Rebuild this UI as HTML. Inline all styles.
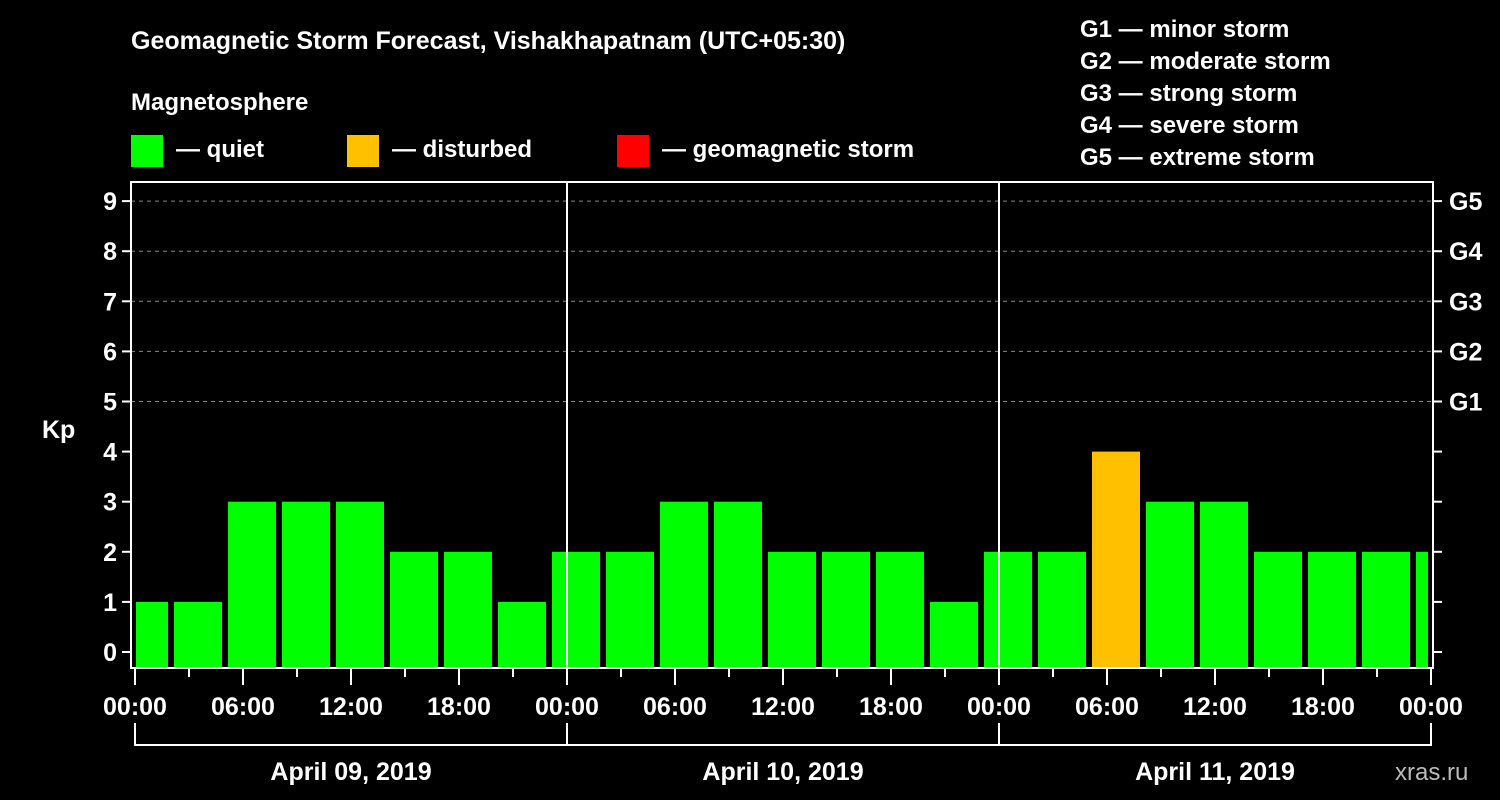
<!DOCTYPE html>
<html><head><meta charset="utf-8"><style>
body{margin:0;background:#000;width:1500px;height:800px;overflow:hidden}
svg{display:block;font-family:"Liberation Sans",Arial,sans-serif;font-weight:bold}
</style></head><body>
<svg id="chart" width="1500" height="800" viewBox="0 0 1500 800">
<rect width="1500" height="800" fill="#000"/>
<text x="131" y="49" fill="#fff" font-size="25">Geomagnetic Storm Forecast, Vishakhapatnam (UTC+05:30)</text>
<text x="131" y="110" fill="#fff" font-size="24">Magnetosphere</text>
<g><rect x="131" y="135" width="32" height="32" fill="#00ff00"/><text x="176" y="157" fill="#fff" font-size="24">— quiet</text></g>
<g><rect x="347" y="135" width="32" height="32" fill="#ffc000"/><text x="392" y="157" fill="#fff" font-size="24">— disturbed</text></g>
<g><rect x="617" y="135" width="32" height="32" fill="#ff0000"/><text x="662" y="157" fill="#fff" font-size="24">— geomagnetic storm</text></g>
<g fill="#fff" font-size="24">
<text x="1080" y="37">G1 — minor storm</text>
<text x="1080" y="69">G2 — moderate storm</text>
<text x="1080" y="101">G3 — strong storm</text>
<text x="1080" y="133">G4 — severe storm</text>
<text x="1080" y="165">G5 — extreme storm</text>
</g>
<text x="42" y="438" fill="#fff" font-size="25">Kp</text>
<g id="grid"></g><g id="bars"></g><g id="axes"></g>
<text x="1395" y="780" fill="#bbb" font-size="24" font-weight="normal">xras.ru</text>
</svg>
<script>
const days=["April 09, 2019","April 10, 2019","April 11, 2019"];
const kpValues=[1,1,3,3,3,2,2,1, 2,2,3,3,2,2,2,1, 2,2,4,3,3,2,2,2,2];
const yTicks=[0,1,2,3,4,5,6,7,8,9];
const gLabels=["G1","G2","G3","G4","G5"];
const hourLabels=["00:00","06:00","12:00","18:00"];
const NS="http://www.w3.org/2000/svg";
const L=131,R=1433,T=182,B=668,X0=135,PXH=18;
const y=v=>652-v*50.1;
const x=h=>X0+h*PXH;
function mk(tag,attrs,parent,txt){const e=document.createElementNS(NS,tag);for(const k in attrs)e.setAttribute(k,attrs[k]);if(txt!==undefined)e.textContent=txt;parent.appendChild(e);return e;}
const grid=document.getElementById('grid'),bars=document.getElementById('bars'),axes=document.getElementById('axes');
for(let v=5;v<=9;v++){const l=mk('line',{x1:L,x2:R,y1:y(v),y2:y(v),stroke:'#888','stroke-dasharray':'4,4','stroke-width':1},grid);

}
kpValues.forEach((v,i)=>{const c=0.5+3*i;let x1=x(c)-24,x2=x(c)+24;x1=Math.max(x1,L+5);x2=Math.min(x2,R-5);if(x2<=x1)return;
const col=v>=5?'#ff0000':(v>=4?'#ffc000':'#00ff00');
const r=mk('rect',{x:x1,y:y(v),width:x2-x1,height:B-y(v),fill:col},bars);

});
for(let d=1;d<days.length;d++){const l=mk('line',{x1:x(24*d),x2:x(24*d),y1:T,y2:B,stroke:'#fff','stroke-width':2},axes);

}
const fr=mk('rect',{x:L,y:T,width:R-L,height:B-T,fill:'none',stroke:'#fff','stroke-width':2},axes);


yTicks.forEach(v=>{mk('line',{x1:L-9,x2:L,y1:y(v),y2:y(v),stroke:'#fff','stroke-width':2},axes);mk('line',{x1:R,x2:R+9,y1:y(v),y2:y(v),stroke:'#fff','stroke-width':2},axes);
const t=mk('text',{x:L-14,y:y(v)+9,fill:'#fff','font-size':25,'text-anchor':'end'},axes,String(v));

});
gLabels.forEach((g,i)=>{const t=mk('text',{x:R+16,y:y(5+i)+9,fill:'#fff','font-size':25},axes,g);

});
for(let h=0;h<=24*days.length;h+=3){const major=h%6===0;mk('line',{x1:x(h),x2:x(h),y1:B,y2:B+(major?17:9),stroke:'#fff','stroke-width':2},axes);
if(major){const lab=hourLabels[(h/6)%4];const t=mk('text',{x:x(h),y:715,fill:'#fff','font-size':25,'text-anchor':'middle'},axes,lab);

}}
days.forEach((d,i)=>{const a=x(24*i),b=x(24*(i+1));mk('path',{d:`M${a},723V745H${b}V723`,fill:'none',stroke:'#fff','stroke-width':2},axes);
const t=mk('text',{x:(a+b)/2,y:780,fill:'#fff','font-size':25,'text-anchor':'middle'},axes,d);

});
</script>
</body></html>
